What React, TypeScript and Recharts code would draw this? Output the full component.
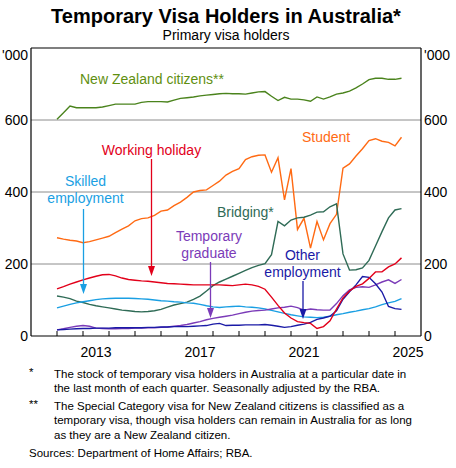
import { LineChart, Line, XAxis, YAxis, ReferenceLine } from 'recharts';

// quarter ends (last month of each quarter)
const quarters = [
    '2011-12',
    '2012-03', '2012-06', '2012-09', '2012-12',
    '2013-03', '2013-06', '2013-09', '2013-12',
    '2014-03', '2014-06', '2014-09', '2014-12',
    '2015-03', '2015-06', '2015-09', '2015-12',
    '2016-03', '2016-06', '2016-09', '2016-12',
    '2017-03', '2017-06', '2017-09', '2017-12',
    '2018-03', '2018-06', '2018-09', '2018-12',
    '2019-03', '2019-06', '2019-09', '2019-12',
    '2020-03', '2020-06', '2020-09', '2020-12',
    '2021-03', '2021-06', '2021-09', '2021-12',
    '2022-03', '2022-06', '2022-09', '2022-12',
    '2023-03', '2023-06', '2023-09', '2023-12',
    '2024-03', '2024-06', '2024-09', '2024-12',
    '2025-03',
];

// '000 of primary visa holders
const nzCitizens = [
    602, 620, 639, 634, 634, 634, 634, 636, 640, 644,
    644, 644, 644, 649, 651, 651, 651, 650, 655, 660,
    662, 664, 667, 669, 671, 673, 674, 673, 673, 672,
    675, 678, 679, 666, 654, 663, 658, 658, 656, 652,
    664, 658, 664, 672, 675, 680, 689, 700, 712, 716,
    716, 713, 713, 716,
];
const student = [
    273, 269, 266, 264, 259, 262, 267, 272, 277, 287,
    297, 306, 320, 326, 328, 335, 347, 350, 362, 372,
    385, 400, 404, 406, 418, 430, 447, 457, 465, 490,
    498, 502, 503, 455, 495, 378, 465, 296, 327, 244,
    318, 267, 312, 338, 466, 478, 500, 520, 543, 548,
    541, 538, 528, 552,
];
const workingHoliday = [
    131, 137, 144, 150, 156, 161, 166, 170, 171, 167,
    161, 157, 155, 153, 152, 150, 148, 146, 145, 144,
    143, 142, 142, 142, 142, 142, 141, 140, 142, 144,
    142, 138, 130, 108, 85, 64, 50, 40, 37, 35,
    21, 26, 42, 75, 106, 125, 138, 145, 160, 178,
    178, 192, 200, 217,
];
const skilled = [
    78, 83, 88, 92, 95, 98, 101, 103, 104, 105,
    105, 105, 104, 103, 102, 100, 98, 97, 95, 94,
    92, 91, 88, 84, 81, 79, 81, 82, 83, 81,
    80, 78, 75, 71, 67, 63, 59, 56, 53, 52,
    51, 52, 55, 59, 62, 66, 69, 73, 76, 81,
    87, 92, 96, 104,
];
const bridging = [
    111, 108, 104, 97, 93, 88, 84, 81, 78, 75,
    72, 70, 68, 67, 68, 70, 74, 80, 86, 90,
    94, 102, 111, 125, 140, 150, 158, 166, 174, 182,
    190, 196, 201, 226, 318, 306, 322, 328, 330, 336,
    344, 345, 359, 367, 228, 183, 184, 189, 210, 250,
    290, 328, 350, 354,
];
const tempGraduate = [
    17, 20, 24, 27, 29, 27, 22, 21, 20, 20,
    21, 21, 22, 22, 23, 23, 24, 25, 27, 29,
    32, 36, 40, 45, 49, 52, 55, 58, 62, 66,
    69, 71, 72, 75, 78, 80, 83, 79, 72, 75,
    73, 72, 72, 90, 112, 128, 135, 137, 135, 142,
    150, 156, 146, 157,
];
const otherEmployment = [
    17, 18, 19, 20, 21, 21, 22, 22, 22, 23,
    23, 23, 23, 23, 24, 24, 25, 25, 26, 26,
    26, 27, 28, 29, 33, 35, 29, 30, 30, 31,
    31, 31, 32, 30, 27, 24, 26, 30, 33, 38,
    46, 50, 55, 70, 102, 123, 142, 165, 163, 145,
    122, 82, 76, 74,
];

const yearTicks = [2012, 2013, 2014, 2015, 2016, 2017, 2018, 2019, 2020, 2021, 2022, 2023, 2024, 2025];
const labelledYears = [2013, 2017, 2021, 2025];
const valueTicks = [0, 200, 400, 600, 800];

const data = quarters.map((q, i) => {
    const [yr, mo] = q.split('-').map(Number);
    return {
        t: yr + mo / 12,
        nz: nzCitizens[i],
        student: student[i],
        wh: workingHoliday[i],
        skilled: skilled[i],
        bridging: bridging[i],
        grad: tempGraduate[i],
        other: otherEmployment[i],
    };
});

const FONT = 'Arial, "Liberation Sans", sans-serif';

const C = {
    nz: '#4a831c',
    nzText: '#5f8f10',
    student: '#ff6a13',
    wh: '#e2001a',
    skilled: '#1a9fe3',
    bridging: '#2f6b56',
    grad: '#7b3bb8',
    other: '#1a1aa6',
};

const XTick = (props: any) => {
    const { x, y, payload } = props;
    const v = payload.value;
    return (
        <g>
            <line x1={x} x2={x} y1={y - 5} y2={y} stroke="#000" strokeWidth={1} />
            {labelledYears.includes(v) && (
                <text x={x + 13} y={y + 21} textAnchor="middle" fontSize={14} fontFamily={FONT} fill="#000">
                    {v}
                </text>
            )}
        </g>
    );
};

const YTick = (props: any) => {
    const { x, y, payload, side } = props;
    const v = payload.value;
    const top = v === 800;
    return (
        <text
            x={x}
            y={top ? y + 12 : y + 5}
            textAnchor={side === 'right' ? 'start' : 'end'}
            fontSize={14}
            fontFamily={FONT}
            fill="#000"
        >
            {top ? "'000" : v}
        </text>
    );
};

const Arrow = ({ x, y1, y2, color }: { x: number; y1: number; y2: number; color: string }) => (
    <g>
        <line x1={x} x2={x} y1={y1} y2={y2 - 6} stroke={color} strokeWidth={1.3} />
        <polygon points={`${x - 3.5},${y2 - 10} ${x + 3.5},${y2 - 10} ${x},${y2}`} fill={color} />
    </g>
);

export default function App() {
    return (
        <div style={{ position: 'absolute', left: 0, top: 0, width: 456, height: 468, background: '#fff' }}>
            <LineChart width={456} height={468} data={data} margin={{ top: 48, right: 0, bottom: 102, left: 0 }}>
                <XAxis
                    dataKey="t"
                    type="number"
                    domain={[2011, 2026]}
                    ticks={yearTicks}
                    height={30}
                    axisLine={{ stroke: '#000', strokeWidth: 1.2 }}
                    tickLine={false}
                    tickSize={0}
                    tickMargin={0}
                    tick={<XTick />}
                    interval={0}
                />
                <YAxis
                    yAxisId="l"
                    domain={[0, 800]}
                    ticks={valueTicks}
                    width={31}
                    axisLine={{ stroke: '#000', strokeWidth: 1.2 }}
                    tickLine={false}
                    tickSize={0}
                    tickMargin={3}
                    tick={<YTick side="left" />}
                    interval={0}
                />
                <YAxis
                    yAxisId="r"
                    orientation="right"
                    domain={[0, 800]}
                    ticks={valueTicks}
                    width={35}
                    axisLine={{ stroke: '#000', strokeWidth: 1.2 }}
                    tickLine={false}
                    tickSize={0}
                    tickMargin={3}
                    tick={<YTick side="right" />}
                    interval={0}
                />
                {[200, 400, 600].map((v) => (
                    <ReferenceLine key={v} yAxisId="l" y={v} stroke="#8c8c8c" strokeWidth={1} />
                ))}
                <ReferenceLine yAxisId="l" y={800} stroke="#000" strokeWidth={1.2} />

                <Line yAxisId="r" dataKey="nz" stroke={C.nz} strokeWidth={1.4} dot={false} isAnimationActive={false} />
                <Line yAxisId="l" dataKey="student" stroke={C.student} strokeWidth={1.4} dot={false} isAnimationActive={false} />
                <Line yAxisId="l" dataKey="bridging" stroke={C.bridging} strokeWidth={1.4} dot={false} isAnimationActive={false} />
                <Line yAxisId="l" dataKey="skilled" stroke={C.skilled} strokeWidth={1.4} dot={false} isAnimationActive={false} />
                <Line yAxisId="l" dataKey="grad" stroke={C.grad} strokeWidth={1.4} dot={false} isAnimationActive={false} />
                <Line yAxisId="l" dataKey="other" stroke={C.other} strokeWidth={1.4} dot={false} isAnimationActive={false} />
                <Line yAxisId="l" dataKey="wh" stroke={C.wh} strokeWidth={1.4} dot={false} isAnimationActive={false} />
            </LineChart>

            {/* titles, series labels, arrows and notes */}
            <svg width={456} height={468} style={{ position: 'absolute', left: 0, top: 0, pointerEvents: 'none' }} fontFamily={FONT}>
                <text x={226} y={23} textAnchor="middle" fontSize={20} fontWeight="bold" fill="#000">
                    Temporary Visa Holders in Australia*
                </text>
                <text x={226} y={40} textAnchor="middle" fontSize={14} fill="#000">
                    Primary visa holders
                </text>

                <text x={80} y={84} fontSize={14} fill={C.nzText}>New Zealand citizens**</text>
                <text x={151.5} y={155} textAnchor="middle" fontSize={14} fill={C.wh}>Working holiday</text>
                <text x={85.5} y={186} textAnchor="middle" fontSize={14} fill={C.skilled}>Skilled</text>
                <text x={85.5} y={203} textAnchor="middle" fontSize={14} fill={C.skilled}>employment</text>
                <text x={302} y={142} fontSize={14} fill={C.student}>Student</text>
                <text x={217} y={217} fontSize={14} fill={C.bridging}>Bridging*</text>
                <text x={209} y={241} textAnchor="middle" fontSize={14} fill={C.grad}>Temporary</text>
                <text x={209} y={258} textAnchor="middle" fontSize={14} fill={C.grad}>graduate</text>
                <text x={302.5} y={260} textAnchor="middle" fontSize={14} fill={C.other}>Other</text>
                <text x={302.5} y={277} textAnchor="middle" fontSize={14} fill={C.other}>employment</text>

                <Arrow x={151.5} y1={159} y2={276} color={C.wh} />
                <Arrow x={83.5} y1={209} y2={294} color={C.skilled} />
                <Arrow x={210.5} y1={262} y2={318} color={C.grad} />
                <Arrow x={303} y1={281} y2={319} color={C.other} />

                <g fontSize={11.5} fill="#000">
                    <text x={29} y={376}>*</text>
                    <text x={54} y={378}>The stock of temporary visa holders in Australia at a particular date in</text>
                    <text x={54} y={392}>the last month of each quarter. Seasonally adjusted by the RBA.</text>
                    <text x={29} y={408}>**</text>
                    <text x={54} y={410}>The Special Category visa for New Zealand citizens is classified as a</text>
                    <text x={54} y={424}>temporary visa, though visa holders can remain in Australia for as long</text>
                    <text x={54} y={439}>as they are a New Zealand citizen.</text>
                    <text x={29} y={457}>Sources: Department of Home Affairs; RBA.</text>
                </g>
            </svg>
        </div>
    );
}
